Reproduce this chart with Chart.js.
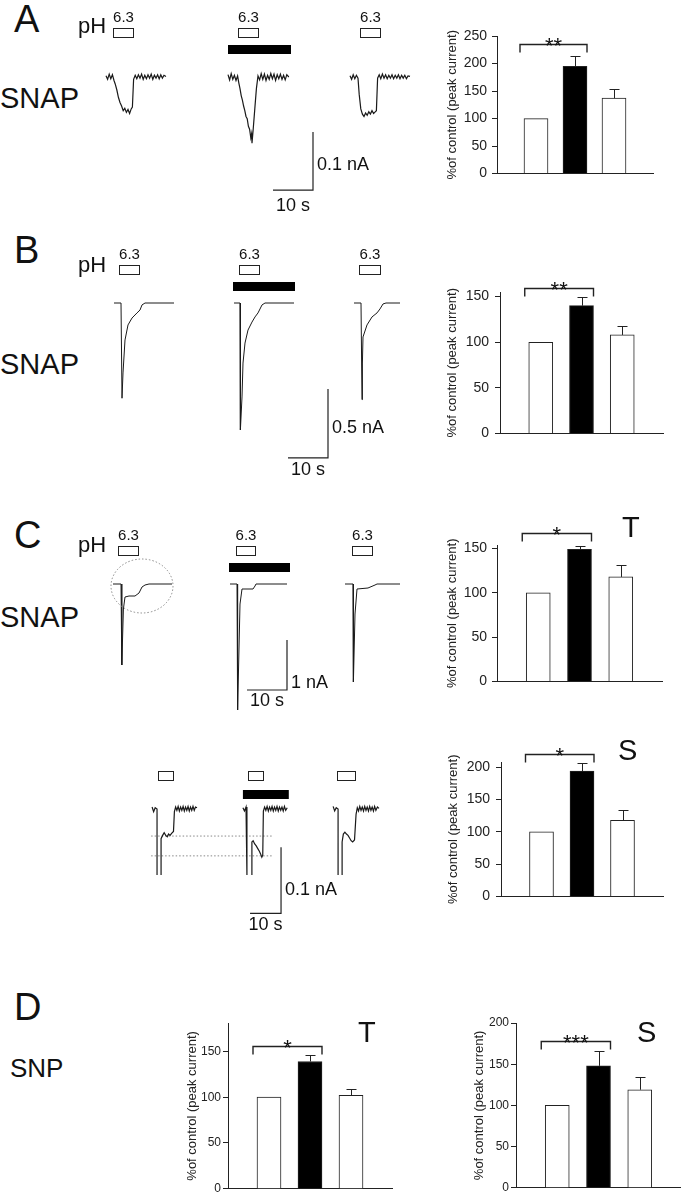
<!DOCTYPE html>
<html>
<head>
<meta charset="utf-8">
<script src="https://cdn.jsdelivr.net/npm/chart.js@4.4.1/dist/chart.umd.min.js"></script>
<style>
  body { margin: 0; background: #fff; }
  #fig { position: relative; width: 681px; height: 1199px; overflow: hidden;
         font-family: 'Liberation Sans', Arial, sans-serif; color: #111; }
  #fig canvas { position: absolute; }
  .lbl { position: absolute; line-height: 1; white-space: nowrap; }
</style>
</head>
<body>
<div id="fig"></div>
<script>
// ---------------- summary bars (% of control, peak current) ----------------
const groups = ['control', 'NO donor', 'wash'];
const meanA  = [100, 195, 137], semA  = [0, 19, 17];
const meanB  = [100, 140, 108], semB  = [0, 9, 10];
const meanCT = [100, 149, 118], semCT = [0, 4, 13];
const meanCS = [100, 194, 118], semCS = [0, 12, 16];
const meanDT = [100, 139, 102], semDT = [0, 7, 7];
const meanDS = [100, 148, 119], semDS = [0, 18, 15];
const sigText  = ['**', '**', '*', '*', '*', '***'];
const sigLevel = [235, 159, 168, 220, 156, 178];
const yMaxes   = [250, 155, 154, 208, 181, 200];

// ---------------- current traces: [time in sweep (s), current (nA)] ----------------
const trA1 = [[0,0.002],[0.4,-0.004],[0.8,0.005],[1.2,-0.003],[1.6,0.004],[2.0,-0.006],[2.3,-0.012],[2.7,-0.022],[3.1,-0.035],[3.5,-0.044],[3.9,-0.05],[4.3,-0.058],[4.7,-0.054],[5.1,-0.061],[5.5,-0.056],[5.9,-0.063],[6.3,-0.055],[6.6,-0.052],[6.9,-0.004],[7.3,0.003],[7.7,-0.003],[8.1,0.004],[8.5,-0.002],[8.9,0.005],[9.3,-0.004],[9.7,0.003],[10.1,-0.003],[10.5,0.004],[10.9,-0.002],[11.3,0.005],[11.7,-0.004],[12.1,0.003],[12.5,-0.002],[12.9,0.004],[13.3,-0.003],[13.7,0.004],[14.1,-0.002],[14.5,0.003],[15.0,0.001]];
const trA2 = [[0,0.004],[0.4,-0.005],[0.8,0.006],[1.2,-0.004],[1.6,0.003],[2.0,-0.006],[2.4,0.002],[2.7,-0.01],[3.0,-0.02],[3.3,-0.032],[3.6,-0.04],[3.9,-0.05],[4.2,-0.058],[4.5,-0.068],[4.8,-0.072],[5.1,-0.085],[5.4,-0.09],[5.7,-0.105],[5.9,-0.098],[6.0,-0.114],[6.3,-0.09],[6.7,-0.055],[7.1,-0.02],[7.5,0.002],[7.9,-0.005],[8.3,0.006],[8.7,-0.004],[9.1,0.005],[9.5,-0.006],[9.9,0.003],[10.3,-0.004],[10.7,0.006],[11.1,-0.003],[11.5,0.005],[11.9,-0.006],[12.3,0.004],[12.7,-0.003],[13.1,0.005],[13.5,-0.004],[13.9,0.003],[14.3,-0.005],[14.7,0.004],[15.2,0.0]];
const trA3 = [[0,0.002],[0.4,-0.004],[0.8,0.004],[1.2,-0.003],[1.6,0.003],[2.0,-0.002],[2.3,-0.03],[2.7,-0.055],[3.1,-0.064],[3.5,-0.068],[3.9,-0.062],[4.3,-0.066],[4.7,-0.06],[5.1,-0.064],[5.5,-0.058],[5.9,-0.063],[6.3,-0.06],[6.6,-0.058],[6.9,-0.002],[7.3,0.004],[7.7,-0.003],[8.1,0.005],[8.5,-0.002],[8.9,0.004],[9.3,-0.003],[9.7,0.003],[10.1,-0.002],[10.5,0.004],[10.9,-0.003],[11.3,0.003],[11.7,-0.002],[12.1,0.004],[12.5,-0.003],[12.9,0.003],[13.3,-0.002],[13.7,0.003],[14.1,-0.003],[14.5,0.002],[15.0,0.001]];

const trB1 = [[0,0],[1.75,0],[2,-0.69],[2.25,-0.507],[2.75,-0.268],[3.5,-0.159],[4.5,-0.109],[5.75,-0.072],[6.5,-0.051],[7,-0.014],[7.75,0],[15,0]];
const trB2 = [[0,0],[1.5,0],[1.6,-0.92],[2,-0.681],[2.25,-0.435],[2.75,-0.29],[3.5,-0.196],[4.5,-0.138],[5.25,-0.101],[6,-0.072],[7,-0.014],[7.75,0],[15,0]];
const trB3 = [[0,0],[1.75,0],[2,-0.70],[2.1,-0.435],[2.25,-0.246],[3.25,-0.159],[4.5,-0.101],[5.75,-0.072],[6.5,-0.043],[7.25,-0.007],[8,0],[11.5,0]];

const trC1 = [[0,0],[2,0],[2.2,-1.62],[2.6,-0.5],[3,-0.26],[4,-0.24],[5.5,-0.24],[6.5,-0.18],[7.25,-0.06],[8,-0.02],[9,0],[14.75,0]];
const trC2 = [[0,0],[1.75,0],[1.9,-2.52],[2.5,-0.4],[3,-0.1],[5.75,-0.1],[6.25,-0.04],[6.5,0],[14.25,0]];
const trC3 = [[0,0],[2,0],[2.1,-1.96],[2.5,-0.6],[3,-0.1],[5.75,-0.08],[7.5,-0.02],[8,0],[13.75,0]];

const trS1 = [[0,0.003],[0.5,-0.004],[1.0,0.002],[1.6,0.0],[1.6,-0.1],[2.2,null],[2.9,-0.1],[2.9,-0.045],[3.4,-0.04],[3.9,-0.036],[4.4,-0.04],[4.9,-0.042],[5.3,-0.038],[5.8,-0.04],[6.3,-0.037],[6.9,-0.034],[7.2,-0.004],[7.6,0.003],[8.0,-0.002],[8.4,0.004],[8.8,-0.003],[9.2,0.003],[9.6,-0.002],[10.0,0.004],[10.4,-0.003],[10.8,0.003],[11.2,-0.002],[11.6,0.004],[12.0,-0.003],[12.4,0.003],[12.8,-0.002],[13.2,0.004],[13.6,-0.002],[14.0,0.003],[14.5,0.002]];
const trS2 = [[0,0.002],[0.5,-0.003],[1.0,0.003],[1.3,0.0],[1.3,-0.1],[2.1,null],[2.9,-0.1],[2.9,-0.05],[3.3,-0.048],[3.8,-0.053],[4.3,-0.056],[4.8,-0.06],[5.3,-0.064],[5.7,-0.068],[6.1,-0.073],[6.4,-0.07],[6.6,-0.003],[7.0,0.003],[7.4,-0.002],[7.8,0.004],[8.2,-0.003],[8.6,0.003],[9.0,-0.002],[9.4,0.004],[9.8,-0.003],[10.2,0.003],[10.6,-0.002],[11.0,0.004],[11.4,-0.003],[11.8,0.003],[12.2,-0.002],[12.6,0.003],[13.0,-0.003],[13.4,0.004],[13.8,-0.002],[14.3,0.002]];
const trS3 = [[0,0.004],[0.5,-0.003],[1.0,0.002],[1.6,0.0],[1.6,-0.1],[2.2,null],[2.9,-0.1],[2.9,-0.05],[3.3,-0.038],[3.8,-0.035],[4.3,-0.038],[4.8,-0.04],[5.3,-0.044],[5.8,-0.048],[6.3,-0.05],[6.9,-0.047],[7.4,-0.008],[7.8,0.002],[8.2,-0.003],[8.6,0.004],[9.0,-0.002],[9.4,0.003],[9.8,-0.003],[10.2,0.004],[10.6,-0.002],[11.0,0.003],[11.4,-0.003],[11.8,0.004],[12.2,-0.002],[12.6,0.003],[13.0,-0.003],[13.4,0.004],[13.8,-0.002],[14.3,0.003],[14.8,0.001]];

// sweep start times (s), pH 6.3 pulses (s, within sweep), SNAP application (s, within sweep 2)
const startA = [1.5, 32, 62.5],   phA = [[1.75,6.75],[2.5,7.5],[2.5,7.5]],   snapA = [0, 15.75];
const startB = [3.5, 33.5, 63.5], phB = [[1.25,6.25],[1.25,6.25],[1.25,6.5]], snapB = [-0.25, 15.25];
const startC = [3.25, 32.5, 61.25], phC = [[1.25,6.25],[1.5,6.25],[1.75,6.75]], snapC = [-0.25, 15];
const startS = [16.8, 46.1, 75.2], phS = [[1.9,6.8],[1.6,6.5],[1.3,7.1]],   snapS = [0, 14.8];

// scale bars: corner time (s), corner current (nA), length in s, length in nA
const scaleA = [53.25, -0.195, 10, 0.1];
const scaleB = [57, -1.123, 10, 0.5];
const scaleC = [46.75, -2.12, 10, 1];
const scaleS = [58.4, -0.158, 10, 0.1];
// dotted reference levels in C (S component), nA
const levelsS = [-0.041, -0.071];

Chart.defaults.font.family = "'Liberation Sans', Arial, sans-serif";
Chart.defaults.color = '#222';
const fig = document.getElementById('fig');

function addCanvas(left, top, w, h) {
  const c = document.createElement('canvas');
  c.width = w; c.height = h;
  c.style.left = left + 'px'; c.style.top = top + 'px';
  c.style.width = w + 'px'; c.style.height = h + 'px';
  fig.appendChild(c);
  return c;
}
function addText(txt, left, cy, size) {
  const d = document.createElement('div');
  d.className = 'lbl';
  d.textContent = txt;
  d.style.fontSize = size + 'px';
  d.style.left = left + 'px';
  d.style.top = (cy - 0.49 * size) + 'px';
  fig.appendChild(d);
}

//=========================bar panels============================
const AXW = 60, PT = 40, PB = 4;

const statPlugin = {
  id: 'stats',
  afterDatasetsDraw(chart, args, o) {
    const ctx = chart.ctx, x = chart.scales.x, y = chart.scales.y;
    ctx.save();
    ctx.strokeStyle = '#222';
    ctx.lineWidth = 1;
    o.mean.forEach((m, i) => {
      if (!o.sem[i]) return;
      const cx = Math.round(x.getPixelForValue(i + 1)) + 0.5;
      const y1 = y.getPixelForValue(m), y2 = Math.round(y.getPixelForValue(m + o.sem[i])) + 0.5;
      ctx.beginPath();
      ctx.moveTo(cx, y1); ctx.lineTo(cx, y2);
      ctx.moveTo(cx - 5, y2); ctx.lineTo(cx + 5, y2);
      ctx.stroke();
    });
    const xl = x.getPixelForValue(1) - 16, xr = x.getPixelForValue(2) + 12;
    const yb = Math.round(y.getPixelForValue(o.sig)) + 0.5;
    ctx.lineWidth = 1.4;
    ctx.beginPath();
    ctx.moveTo(xl, yb + 8); ctx.lineTo(xl, yb); ctx.lineTo(xr, yb); ctx.lineTo(xr, yb + 8);
    ctx.stroke();
    ctx.fillStyle = '#111';
    ctx.font = "22px 'Liberation Sans', Arial, sans-serif";
    ctx.textAlign = 'center';
    ctx.textBaseline = 'alphabetic';
    ctx.fillText(o.stars, (xl + xr) / 2, yb + 8);
    ctx.restore();
  }
};

function barPanel(p) {
  const c = addCanvas(p.x0 - AXW, p.maxY - PT, AXW + p.x1 - p.x0 + 2, PT + p.zeroY - p.maxY + PB);
  new Chart(c, {
    type: 'bar',
    data: {
      datasets: [{
        label: '% of control',
        data: p.mean.map((v, i) => ({ x: i + 1, y: v, g: groups[i] })),
        backgroundColor: ['#ffffff', '#000000', '#ffffff'],
        borderColor: '#222',
        borderWidth: 1,
        barThickness: 24
      }]
    },
    options: {
      responsive: false,
      animation: false,
      layout: { padding: { top: PT, bottom: PB, left: 0, right: 2 } },
      plugins: {
        legend: { display: false },
        tooltip: { enabled: false },
        stats: { mean: p.mean, sem: p.sem, sig: p.sig, stars: p.stars }
      },
      scales: {
        x: {
          type: 'linear', min: 0, max: 4, offset: false,
          ticks: { display: false },
          grid: { display: true, offset: false, drawOnChartArea: false, drawTicks: false },
          border: { display: true, color: '#222', width: 1 },
          afterFit: s => { s.height = 0; }
        },
        y: {
          min: 0, max: p.yMax,
          ticks: { stepSize: 50, includeBounds: false, padding: p.tpad, color: '#222',
                   font: { size: p.tick } },
          grid: { display: true, drawOnChartArea: false, drawTicks: true, tickLength: 5, color: '#222' },
          border: { display: true, color: '#222', width: 1 },
          title: { display: true, text: '%of control (peak current)', color: '#222',
                   font: { size: 13 }, padding: { top: AXW - p.titleDist - 7.8, bottom: 0 } },
          afterFit: s => { s.width = AXW; }
        }
      }
    },
    plugins: [statPlugin]
  });
}

barPanel({ x0: 497, x1: 653, maxY: 36,   zeroY: 183,  yMax: yMaxes[0], mean: meanA,  sem: semA,  sig: sigLevel[0], stars: sigText[0], titleDist: 45, tick: 14, tpad: 5 });
barPanel({ x0: 500, x1: 663, maxY: 292,  zeroY: 444,  yMax: yMaxes[1], mean: meanB,  sem: semB,  sig: sigLevel[1], stars: sigText[1], titleDist: 48, tick: 14, tpad: 6 });
barPanel({ x0: 497, x1: 662, maxY: 545,  zeroY: 691,  yMax: yMaxes[2], mean: meanCT, sem: semCT, sig: sigLevel[2], stars: sigText[2], titleDist: 45, tick: 14, tpad: 5 });
barPanel({ x0: 501, x1: 663, maxY: 762,  zeroY: 907,  yMax: yMaxes[3], mean: meanCS, sem: semCS, sig: sigLevel[3], stars: sigText[3], titleDist: 48, tick: 14, tpad: 6 });
barPanel({ x0: 228, x1: 392, maxY: 1023, zeroY: 1194, yMax: yMaxes[4], mean: meanDT, sem: semDT, sig: sigLevel[4], stars: sigText[4], titleDist: 36, tick: 12, tpad: 2 });
barPanel({ x0: 516, x1: 681, maxY: 1023, zeroY: 1193, yMax: yMaxes[5], mean: meanDS, sem: semDS, sig: sigLevel[5], stars: sigText[5], titleDist: 37, tick: 12, tpad: 2 });

//=========================trace rows============================
const stimPlugin = {
  id: 'stim',
  afterDraw(chart, args, o) {
    const ctx = chart.ctx, x = chart.scales.x, y = chart.scales.y;
    ctx.save();
    ctx.strokeStyle = '#222';
    ctx.lineWidth = 1;
    // pH 6.3 pulses
    o.starts.forEach((s, i) => {
      const a = Math.round(x.getPixelForValue(s + o.ph[i][0])) + 0.5;
      const b = Math.round(x.getPixelForValue(s + o.ph[i][1])) + 0.5;
      ctx.fillStyle = '#fff';
      ctx.fillRect(a, o.boxTop + 0.5, b - a, 9);
      ctx.strokeRect(a, o.boxTop + 0.5, b - a, 9);
      if (o.label) {
        ctx.fillStyle = '#111';
        ctx.font = "15px 'Liberation Sans', Arial, sans-serif";
        ctx.textAlign = 'center';
        ctx.textBaseline = 'middle';
        ctx.fillText('6.3', (a + b) / 2, o.boxTop - 10);
      }
    });
    // SNAP application (sweep 2)
    const s2 = o.starts[1];
    const a = x.getPixelForValue(s2 + o.snap[0]), b = x.getPixelForValue(s2 + o.snap[1]);
    ctx.fillStyle = '#000';
    ctx.fillRect(a, o.barTop, b - a, 9);
    // scale bar labels
    const sc = o.scale;
    const vx = x.getPixelForValue(sc[0]), by = y.getPixelForValue(sc[1]);
    const hx = x.getPixelForValue(sc[0] - sc[2] / 2);
    ctx.fillStyle = '#111';
    ctx.font = "18px 'Liberation Sans', Arial, sans-serif";
    ctx.textBaseline = 'middle';
    ctx.textAlign = 'left';
    ctx.fillText(sc[3] + ' nA', vx + 4, by + o.nAdy);
    ctx.textAlign = 'center';
    ctx.fillText(sc[2] + ' s', hx, by + o.sdy);
    // dotted ellipse around first response
    if (o.ring) {
      ctx.strokeStyle = '#888';
      ctx.setLineDash([1.5, 2]);
      ctx.beginPath();
      ctx.ellipse(x.getPixelForValue(o.ring[0]), y.getPixelForValue(o.ring[1]), 31, 27, 0, 0, Math.PI * 2);
      ctx.stroke();
    }
    ctx.restore();
  }
};

function traceRow(r) {
  const c = addCanvas(r.left, r.top, r.w, r.h);
  const ds = r.traces.map((tr, i) => ({
    data: tr.map(p => ({ x: r.starts[i] + p[0], y: p[1] })),
    borderColor: '#1a1a1a', borderWidth: r.lw, pointRadius: 0, showLine: true, spanGaps: false, tension: 0
  }));
  const sc = r.scale;
  ds.push({
    data: [{ x: sc[0], y: sc[1] + sc[3] }, { x: sc[0], y: sc[1] }, { x: sc[0] - sc[2], y: sc[1] }],
    borderColor: '#222', borderWidth: 1.2, pointRadius: 0, showLine: true
  });
  (r.levels || []).forEach(lv => {
    ds.push({
      data: [{ x: r.levelSpan[0], y: lv }, { x: r.levelSpan[1], y: lv }],
      borderColor: '#888', borderWidth: 1, borderDash: [1.5, 2], pointRadius: 0, showLine: true
    });
  });
  new Chart(c, {
    type: 'scatter',
    data: { datasets: ds },
    options: {
      responsive: false,
      animation: false,
      layout: { padding: 0 },
      plugins: {
        legend: { display: false }, tooltip: { enabled: false },
        stim: { starts: r.starts, ph: r.ph, snap: r.snap, boxTop: r.boxTop - r.top, barTop: r.barTop - r.top,
                label: r.label, scale: r.scale, nAdy: r.nAdy, sdy: r.sdy, ring: r.ring }
      },
      scales: {
        x: { type: 'linear', display: false, min: 0, max: r.w / r.pxPerS },
        y: { type: 'linear', display: false,
             min: -(r.top + r.h - r.base) / r.pxPerNa, max: (r.base - r.top) / r.pxPerNa }
      }
    },
    plugins: [stimPlugin]
  });
}

traceRow({ left: 100, top: 0,   w: 320, h: 222, base: 77,  pxPerNa: 580, pxPerS: 4,
  traces: [trA1, trA2, trA3], starts: startA, ph: phA, snap: snapA, boxTop: 28, barTop: 45,
  label: true, scale: scaleA, nAdy: -25, sdy: 16, lw: 1.2 });
traceRow({ left: 100, top: 228, w: 320, h: 252, base: 303, pxPerNa: 138, pxPerS: 4,
  traces: [trB1, trB2, trB3], starts: startB, ph: phB, snap: snapB, boxTop: 265, barTop: 282,
  label: true, scale: scaleB, nAdy: -30, sdy: 12, lw: 1 });
traceRow({ left: 100, top: 500, w: 320, h: 220, base: 584, pxPerNa: 50, pxPerS: 4,
  traces: [trC1, trC2, trC3], starts: startC, ph: phC, snap: snapC, boxTop: 546, barTop: 563,
  label: true, scale: scaleC, nAdy: -7, sdy: 11, lw: 1, ring: [10.5, -0.04] });
traceRow({ left: 100, top: 740, w: 320, h: 200, base: 809, pxPerNa: 660, pxPerS: 3.1,
  traces: [trS1, trS2, trS3], starts: startS, ph: phS, snap: snapS, boxTop: 771, barTop: 790,
  label: false, scale: scaleS, nAdy: -23, sdy: 12, lw: 1.2,
  levels: levelsS, levelSpan: [16.5, 55.8] });

//=========================text labels============================
addText('A', 14, 19, 38);
addText('B', 14, 250, 38);
addText('C', 14, 535, 38);
addText('D', 14, 1007, 38);
addText('SNAP', 0, 98, 29);
addText('SNAP', 0, 364, 29);
addText('SNAP', 0, 617, 29);
addText('SNP', 10, 1068, 26);
addText('pH', 78, 26, 22);
addText('pH', 78, 265, 22);
addText('pH', 78, 545, 22);
addText('T', 622, 527, 29);
addText('S', 618, 750, 29);
addText('T', 358, 1032, 29);
addText('S', 637, 1032, 29);
</script>
</body>
</html>
